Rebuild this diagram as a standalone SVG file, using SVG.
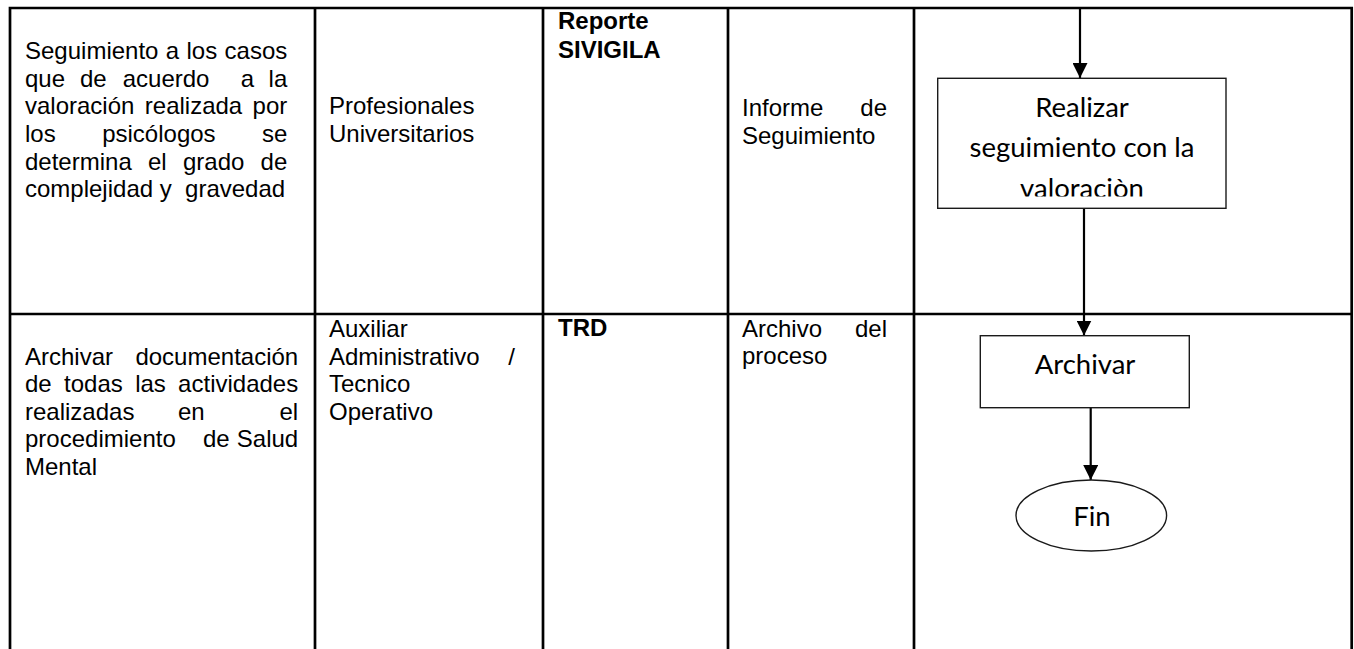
<svg xmlns="http://www.w3.org/2000/svg" width="1354" height="649" viewBox="0 0 1354 649">
<style>
.t{font-family:"Liberation Sans",Arial,sans-serif;font-size:24px;fill:#000}
.b{font-weight:bold}
.f{font-family:Lato,"Open Sans",sans-serif;font-size:27.5px;fill:#000;text-anchor:middle}
.grid{stroke:#000;stroke-width:2.7;fill:none}
.shape{fill:#fff;stroke:#1a1a1a;stroke-width:1.4}
.conn{stroke:#000;stroke-width:2.2;fill:none}
</style>
<defs>
<marker id="arr" markerWidth="15" markerHeight="15" refX="15" refY="7.5" orient="auto" markerUnits="userSpaceOnUse">
<path d="M0,0 L15,7.5 L0,15 Z" fill="#000"/>
</marker>
<clipPath id="c1"><rect x="937" y="78" width="290" height="118.5"/></clipPath>
</defs>
<rect width="1354" height="649" fill="#fff"/>
<g id="table">
<path class="grid" d="M10,649 V8 H1351.7 V649 M10,314 H1351.7 M315,8 V649 M543,8 V649 M728,8 V649 M914,8 V649"/>
</g>
<g id="row1-text">
<text class="t"><tspan x="25" y="59">Seguimiento</tspan><tspan x="165.8" y="59">a</tspan><tspan x="186.5" y="59">los</tspan><tspan x="287.3" y="59" text-anchor="end">casos</tspan></text>
<text class="t"><tspan x="25" y="87">que</tspan><tspan x="80" y="87">de</tspan><tspan x="122.7" y="87">acuerdo</tspan><tspan x="240.7" y="87">a</tspan><tspan x="287.3" y="87" text-anchor="end">la</tspan></text>
<text class="t"><tspan x="25" y="114">valoración</tspan><tspan x="144.8" y="114">realizada</tspan><tspan x="287.3" y="114" text-anchor="end">por</tspan></text>
<text class="t"><tspan x="25" y="142">los</tspan><tspan x="102.2" y="142">psicólogos</tspan><tspan x="287.3" y="142" text-anchor="end">se</tspan></text>
<text class="t"><tspan x="25" y="170">determina</tspan><tspan x="148" y="170">el</tspan><tspan x="183" y="170">grado</tspan><tspan x="287.3" y="170" text-anchor="end">de</tspan></text>
<text class="t" x="25" y="197" xml:space="preserve">complejidad y  gravedad</text>
<text class="t" x="329" y="114">Profesionales</text>
<text class="t" x="329" y="142">Universitarios</text>
<text class="t b" x="558" y="29">Reporte</text>
<text class="t b" x="558" y="58">SIVIGILA</text>
<text class="t"><tspan x="742" y="116">Informe</tspan><tspan x="887" y="116" text-anchor="end">de</tspan></text>
<text class="t" x="742" y="144">Seguimiento</text>
</g>
<g id="row2-text">
<text class="t"><tspan x="25" y="365">Archivar</tspan><tspan x="298.2" y="365" text-anchor="end">documentación</tspan></text>
<text class="t"><tspan x="25" y="392">de</tspan><tspan x="64.1" y="392">todas</tspan><tspan x="135.2" y="392">las</tspan><tspan x="298.2" y="392" text-anchor="end">actividades</tspan></text>
<text class="t"><tspan x="25" y="420">realizadas</tspan><tspan x="178" y="420">en</tspan><tspan x="298.2" y="420" text-anchor="end">el</tspan></text>
<text class="t"><tspan x="25" y="447">procedimiento</tspan><tspan x="203" y="447">de</tspan><tspan x="298.2" y="447" text-anchor="end">Salud</tspan></text>
<text class="t" x="25" y="475">Mental</text>
<text class="t" x="329" y="337">Auxiliar</text>
<text class="t"><tspan x="329" y="365">Administrativo</tspan><tspan x="515" y="365" text-anchor="end">/</tspan></text>
<text class="t" x="329" y="392">Tecnico</text>
<text class="t" x="329" y="420">Operativo</text>
<text class="t b" x="558" y="336">TRD</text>
<text class="t"><tspan x="742" y="337">Archivo</tspan><tspan x="887" y="337" text-anchor="end">del</tspan></text>
<text class="t" x="742" y="364">proceso</text>
</g>
<g id="connectors">
<line class="conn" x1="1080" y1="8" x2="1080" y2="78" marker-end="url(#arr)"/>
<line class="conn" x1="1084" y1="208.3" x2="1084" y2="335.5" marker-end="url(#arr)"/>
<line class="conn" x1="1090.7" y1="407.7" x2="1090.7" y2="480" marker-end="url(#arr)"/>
</g>
<g id="node-seguimiento">
<rect class="shape" x="937.7" y="78.3" width="288.3" height="130"/>
<g clip-path="url(#c1)">
<text class="f" x="1082" y="116.7">Realizar</text>
<text class="f" x="1082" y="156.7">seguimiento con la</text>
<text class="f" x="1082" y="197.5">valoraciòn</text>
</g>
</g>
<g id="node-archivar">
<rect class="shape" x="980.3" y="335.7" width="209" height="72"/>
<text class="f" x="1085" y="374">Archivar</text>
</g>
<g id="node-fin">
<ellipse class="shape" cx="1091.3" cy="515.5" rx="75.3" ry="35.5"/>
<text class="f" x="1092" y="526">Fin</text>
</g>
</svg>
